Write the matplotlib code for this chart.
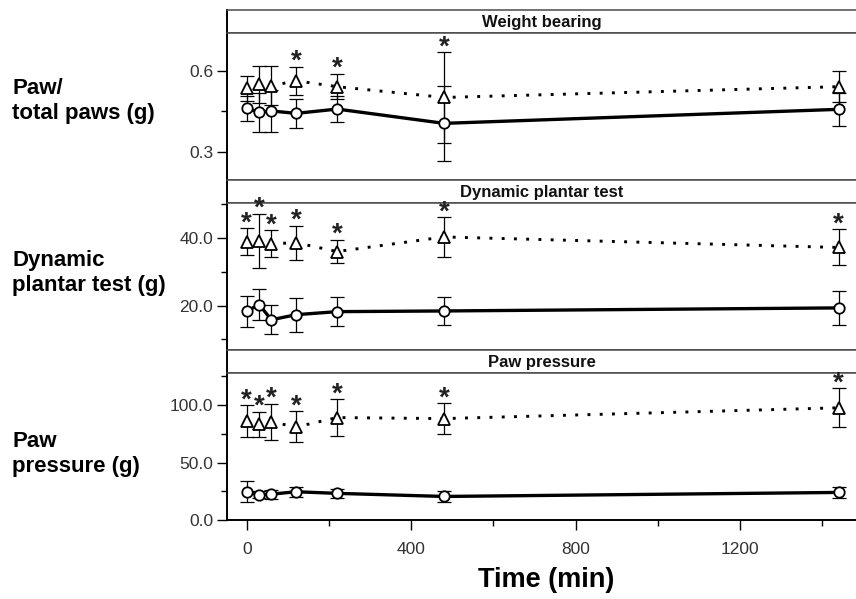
## Three-panel time course: weight bearing, dynamic plantar test, paw pressure
import numpy as np
import matplotlib.pyplot as plt
from matplotlib.ticker import FixedLocator, FormatStrFormatter

plt.rcParams['font.family'] = ['Liberation Sans', 'DejaVu Sans']

# time points (min)
time_min = [0, 30, 60, 120, 220, 480, 1440]

# weight bearing (paw / total paws)
wb_circ = [0.461, 0.446, 0.451, 0.442, 0.458, 0.405, 0.457]
wb_circ_err = [0.046, 0.072, 0.077, 0.053, 0.049, 0.140, 0.060]
wb_tri = [0.535, 0.550, 0.544, 0.563, 0.541, 0.501, 0.541]
wb_tri_err = [0.046, 0.068, 0.072, 0.052, 0.047, 0.167, 0.058]
wb_sig = [0, 0, 0, 1, 1, 1, 0]

# dynamic plantar test (g)
dpt_circ = [18.3, 20.3, 15.8, 17.3, 18.2, 18.4, 19.3]
dpt_circ_err = [4.5, 4.5, 4.3, 5.0, 4.2, 4.0, 4.9]
dpt_tri = [38.8, 39.0, 38.2, 38.5, 35.9, 40.2, 37.1]
dpt_tri_err = [4.0, 8.0, 4.0, 5.0, 3.5, 5.8, 5.3]
dpt_sig = [1, 1, 1, 1, 1, 1, 1]

# paw pressure (g)
pp_circ = [24.6, 21.9, 22.5, 24.6, 23.2, 20.5, 24.0]
pp_circ_err = [9.0, 3.0, 4.0, 4.5, 4.0, 5.0, 5.0]
pp_tri = [86.0, 83.3, 85.4, 81.0, 89.2, 88.3, 97.7]
pp_tri_err = [14.0, 11.0, 16.0, 13.5, 15.8, 13.5, 17.0]
pp_sig = [1, 1, 1, 1, 1, 1, 1]

titles = ['Weight bearing', 'Dynamic plantar test', 'Paw pressure']
ylabels = ['Paw/\ntotal paws (g)', 'Dynamic\nplantar test (g)', 'Paw\npressure (g)']
ylims = [(0.195, 0.74), (6.9, 50.2), (0, 128)]
ymajor = [[0.3, 0.6], [20, 40], [0, 50, 100]]
yminor = [[0.45], [10, 30, 50], [25, 75, 125]]
xmajor = [0, 400, 800, 1200]
xminor = [200, 600, 1000, 1400]

panels = [
    (wb_circ, wb_circ_err, wb_tri, wb_tri_err, wb_sig),
    (dpt_circ, dpt_circ_err, dpt_tri, dpt_tri_err, dpt_sig),
    (pp_circ, pp_circ_err, pp_tri, pp_tri_err, pp_sig),
]

W, H = 856, 599
def frac(l, t, r, b):
    return [l / W, 1 - b / H, (r - l) / W, (b - t) / H]

fig = plt.figure(figsize=(W / 100, H / 100), dpi=100)
frame_col = '#4a4a4a'
tick_col = '#333333'

axes = []
for i, (circ, circ_err, tri, tri_err, sig) in enumerate(panels):
    top = 10 + i * 170
    # strip header
    st = fig.add_axes(frac(227, top, 856, top + 23))
    st.set_xticks([])
    st.set_yticks([])
    for s in st.spines.values():
        s.set_color(frame_col)
        s.set_linewidth(1.1)
    st.spines['right'].set_visible(False)
    st.spines['left'].set_color('k')
    st.spines['left'].set_linewidth(1.4)
    st.text(0.5, 0.45, titles[i], transform=st.transAxes, ha='center', va='center',
            fontsize=12, fontweight='bold', color='#111111')

    ax = fig.add_axes(frac(227, top + 23, 856, top + 170))
    axes.append(ax)
    ax.plot(time_min, circ, color='k', lw=2.4, zorder=2)
    ax.plot(time_min, tri, color='k', lw=2.1, ls=(0, (1, 3.2)), zorder=2)
    ax.errorbar(time_min, circ, yerr=circ_err, fmt='none', ecolor='k', elinewidth=0.9,
                capsize=5, capthick=0.9, zorder=3)
    ax.errorbar(time_min, tri, yerr=tri_err, fmt='none', ecolor='k', elinewidth=0.9,
                capsize=5, capthick=0.9, zorder=3)
    ax.plot(time_min, circ, ls='none', marker='o', ms=7.5, mfc='white', mec='k', mew=1.3, zorder=4)
    ax.plot(time_min, tri, ls='none', marker='^', ms=8.5, mfc='white', mec='k', mew=1.3, zorder=4)
    for t, m, e, s in zip(time_min, tri, tri_err, sig):
        if s:
            ax.annotate('*', xy=(t, m + e), xytext=(0, -1.5), textcoords='offset points',
                        ha='center', va='baseline', fontsize=20, fontweight='bold',
                        color='#222222')

    ax.set_xlim(-48, 1482)
    ax.set_ylim(*ylims[i])
    ax.yaxis.set_major_locator(FixedLocator(ymajor[i]))
    ax.yaxis.set_minor_locator(FixedLocator(yminor[i]))
    ax.yaxis.set_major_formatter(FormatStrFormatter('%.1f'))
    ax.xaxis.set_major_locator(FixedLocator(xmajor))
    ax.xaxis.set_minor_locator(FixedLocator(xminor))
    ax.tick_params(which='major', direction='out', length=7, width=1.0, color='k',
                   labelsize=12.5, labelcolor=tick_col, pad=3)
    ax.tick_params(which='minor', direction='out', length=4, width=1.0, color='k')
    ax.tick_params(axis='x', which='major', pad=9)
    for s in ax.spines.values():
        s.set_color(frame_col)
        s.set_linewidth(1.1)
    ax.spines['right'].set_visible(False)
    ax.spines['left'].set_color('k')
    ax.spines['left'].set_linewidth(1.4)
    if i < 2:
        ax.tick_params(axis='x', which='both', bottom=False, labelbottom=False)
    else:
        ax.spines['bottom'].set_color('k')
        ax.spines['bottom'].set_linewidth(1.4)

# y-axis labels at the left
label_y = [101, 273, 454]
for txt, yp in zip(ylabels, label_y):
    fig.text(12 / W, 1 - yp / H, txt, ha='left', va='center', fontsize=16,
             fontweight='bold', linespacing=1.25)

fig.text(546 / W, 1 - 580 / H, 'Time (min)', ha='center', va='center', fontsize=19.5,
         fontweight='bold')

out_file = 'out.png'
fig.savefig(out_file, dpi=100)
print(f'save to file: {out_file}')
